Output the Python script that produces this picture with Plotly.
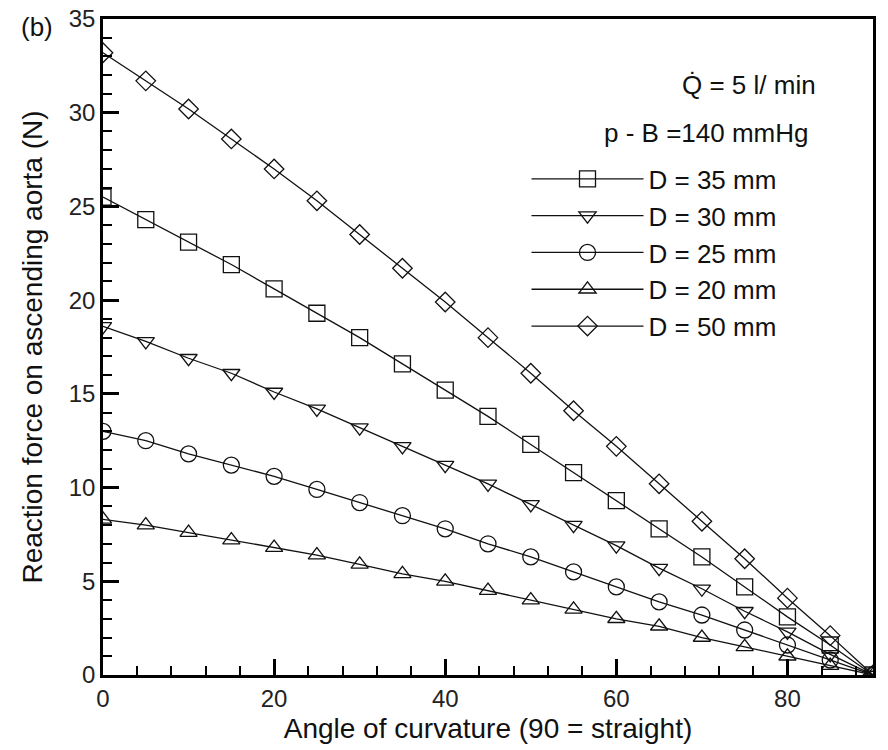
import plotly.graph_objects as go

angle = [0, 5, 10, 15, 20, 25, 30, 35, 40, 45, 50, 55, 60, 65, 70, 75, 80, 85, 90]

force_d35 = [25.5, 24.3, 23.1, 21.9, 20.6, 19.3, 18.0, 16.6, 15.2, 13.8, 12.3, 10.8, 9.3, 7.8, 6.3, 4.7, 3.1, 1.6, 0.0]
force_d30 = [18.6, 17.8, 16.9, 16.1, 15.1, 14.2, 13.2, 12.2, 11.2, 10.2, 9.1, 8.0, 6.9, 5.7, 4.6, 3.4, 2.3, 1.1, 0.0]
force_d25 = [13.0, 12.5, 11.8, 11.2, 10.6, 9.9, 9.2, 8.5, 7.8, 7.0, 6.3, 5.5, 4.7, 3.9, 3.2, 2.4, 1.6, 0.8, 0.0]
force_d20 = [8.3, 8.0, 7.6, 7.2, 6.8, 6.4, 5.9, 5.4, 5.0, 4.5, 4.0, 3.5, 3.0, 2.6, 2.0, 1.5, 1.0, 0.5, 0.0]
force_d50 = [33.2, 31.7, 30.2, 28.6, 27.0, 25.3, 23.5, 21.7, 19.9, 18.0, 16.1, 14.1, 12.2, 10.2, 8.2, 6.2, 4.1, 2.1, 0.0]

series_names = ["D = 35 mm", "D = 30 mm", "D = 25 mm", "D = 20 mm", "D = 50 mm"]
series_values = [force_d35, force_d30, force_d25, force_d20, force_d50]
series_symbols = ["square-open", "triangle-down-open", "circle-open", "triangle-up-open", "diamond-open"]
series_sizes = [16, 15, 16, 15, 15]

x_title = "Angle of curvature (90 = straight)"
y_title = "Reaction force on ascending aorta (N)"
note_flow = "Q\u0307 = 5 l/ min"
note_pressure = "p - B =140 mmHg"
panel_label = "(b)"

FONT = "Liberation Sans, Arial, sans-serif"

fig = go.Figure()
for name, vals, sym, sz in zip(series_names, series_values, series_symbols, series_sizes):
    fig.add_trace(go.Scatter(
        x=angle, y=vals, name=name, mode="lines+markers",
        line=dict(color="#111111", width=1.3),
        marker=dict(symbol=sym, size=sz, color="#111111", line=dict(width=1.3, color="#111111")),
    ))

axis_common = dict(
    showline=True, linecolor="black", linewidth=2.5, mirror=True,
    ticks="inside", ticklen=16, tickwidth=2.5, tickcolor="black",
    showgrid=False, zeroline=False, automargin=False,
    tickfont=dict(family=FONT, size=24, color="#222222"),
)

fig.update_xaxes(
    range=[0, 90], tick0=0, dtick=20,
    minor=dict(dtick=4, ticks="inside", ticklen=9, tickwidth=1.8, tickcolor="black"),
    title=dict(text=x_title, font=dict(family=FONT, size=28, color="#111111"), standoff=8),
    **axis_common,
)
fig.update_yaxes(
    range=[0, 35], tick0=0, dtick=5,
    minor=dict(dtick=1, ticks="inside", ticklen=9, tickwidth=1.8, tickcolor="black"),
    title=dict(text=y_title, font=dict(family=FONT, size=28, color="#111111"), standoff=18),
    **axis_common,
)

fig.update_layout(
    width=888, height=750,
    margin=dict(l=103, r=15, t=19, b=75),
    paper_bgcolor="white", plot_bgcolor="white",
    font=dict(family=FONT, color="#111111"),
    showlegend=True,
    legend=dict(
        x=0.55, y=0.792, xanchor="left", yanchor="top",
        bgcolor="rgba(0,0,0,0)", borderwidth=0,
        font=dict(family=FONT, size=26, color="#111111"),
        itemwidth=112,
    ),
    annotations=[
        dict(text=note_flow, xref="paper", yref="paper", x=0.928, y=0.90, xanchor="right", yanchor="middle",
             showarrow=False, font=dict(family=FONT, size=26, color="#111111")),
        dict(text=note_pressure, xref="paper", yref="paper", x=0.918, y=0.826, xanchor="right", yanchor="middle",
             showarrow=False, font=dict(family=FONT, size=26, color="#111111")),
        dict(text=panel_label, xref="paper", yref="paper", x=-0.062, y=0.988, xanchor="right", yanchor="middle",
             showarrow=False, font=dict(family=FONT, size=26, color="#111111")),
    ],
)

fig.write_html("out.html")
